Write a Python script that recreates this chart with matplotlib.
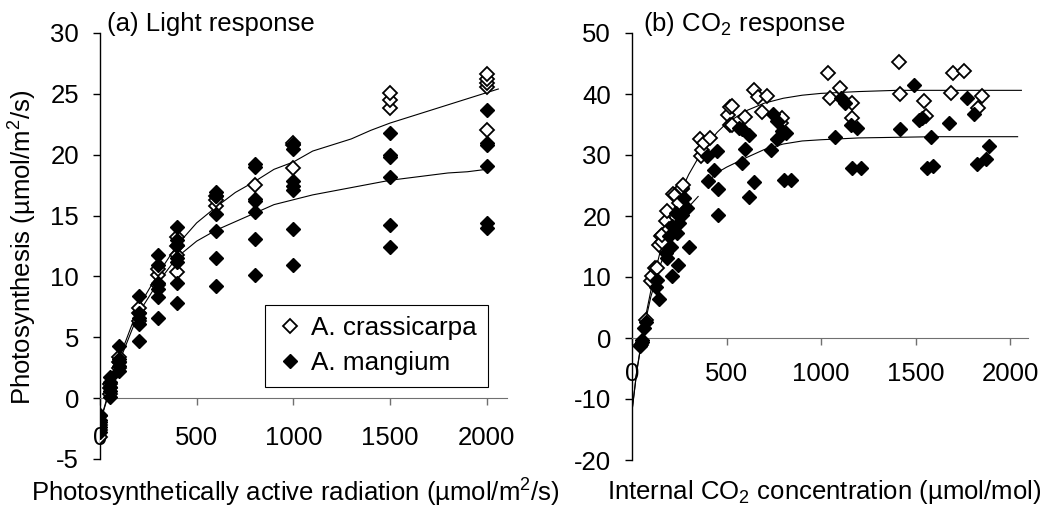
import numpy as np
import matplotlib
matplotlib.use("Agg")
import matplotlib.pyplot as plt

plt.rcParams['font.family'] = ['Liberation Sans', 'DejaVu Sans']
plt.rcParams['mathtext.fontset'] = 'custom'
plt.rcParams['mathtext.rm'] = 'Liberation Sans'
plt.rcParams['axes.unicode_minus'] = False
plt.rcParams['font.size'] = 18

# ---- (a) light response: leaf photosynthesis at each PAR level ----
light_levels = [0, 50, 100, 200, 300, 400, 600, 800, 1000, 1500, 2000]
cras_light = [
    [-1.5, -2.2, -2.6, -3.2],
    [0.3, 0.8, 1.2],
    [2.5, 3.0, 3.4],
    [6.3, 7.0, 7.4],
    [9.3, 10.1, 10.6],
    [10.4, 11.8, 12.5, 13.2],
    [15.8, 16.3, 16.6],
    [17.5],
    [18.9, 20.8, 21.0],
    [23.8, 24.5, 25.1],
    [22.0, 25.6, 25.9, 26.2, 26.6],
]
mang_light = [
    [-1.4, -1.8, -2.0, -2.4, -2.8],
    [0.1, 0.6, 0.9, 1.3, 1.7],
    [2.2, 2.6, 3.0, 3.2, 4.3],
    [4.7, 6.1, 6.6, 7.0, 8.4],
    [6.6, 8.3, 9.0, 9.5, 10.9, 11.8],
    [7.8, 9.5, 11.2, 11.5, 12.6, 13.0, 14.1],
    [9.2, 11.5, 13.7, 15.1, 16.6, 16.9],
    [10.1, 13.1, 15.3, 16.2, 16.4, 19.0, 19.2],
    [10.9, 13.9, 17.1, 17.4, 17.8, 20.5, 20.9],
    [12.4, 14.2, 18.2, 19.8, 20.0, 21.8],
    [14.0, 14.4, 19.1, 20.8, 21.0, 23.7],
]

# fitted light-response curves
cras_light_fit_x = [0, 50, 100, 200, 300, 400, 500, 600, 700, 800, 900, 1000, 1100,
                    1200, 1300, 1400, 1500, 1600, 1700, 1800, 1900, 2000, 2060]
cras_light_fit_y = [-2.0, 0.8, 3.3, 7.5, 10.2, 12.6, 14.4, 15.7, 16.9, 17.8, 18.8, 19.4, 20.3,
                    20.8, 21.3, 22.0, 22.6, 23.1, 23.6, 24.1, 24.6, 25.1, 25.4]
mang_light_fit_x = [0, 50, 100, 200, 300, 400, 500, 600, 700, 800, 900, 1000, 1100,
                    1200, 1300, 1400, 1500, 1600, 1700, 1800, 1900, 2000]
mang_light_fit_y = [-2.0, 0.6, 3.0, 7.0, 9.5, 11.6, 12.9, 13.8, 14.5, 15.2, 15.9, 16.3, 16.7,
                    17.0, 17.3, 17.6, 17.9, 18.1, 18.3, 18.5, 18.6, 18.8]

# ---- (b) CO2 response: photosynthesis vs internal CO2 ----
cras_ci = [46, 72, 99, 108, 122, 134, 143, 152, 157, 160, 178, 187, 196, 219, 226, 249,
           263, 266, 270, 358, 363, 369, 381, 413, 508, 517, 519, 531, 531, 598, 645, 668,
           690, 716, 787, 795, 1035, 1046, 1102, 1163, 1163, 1410, 1417, 1543, 1555, 1690,
           1697, 1755, 1850, 1832]
cras_a = [-1.1, 3.0, 9.3, 10.1, 11.5, 11.5, 15.3, 16.7, 15.8, 16.9, 19.1, 20.8, 17.8, 23.6,
          23.5, 22.2, 24.5, 24.6, 25.1, 32.6, 29.8, 30.9, 31.9, 32.8, 36.6, 37.9, 34.9, 38.0,
          35.0, 36.2, 40.7, 39.5, 37.0, 39.6, 35.2, 36.1, 43.5, 39.4, 41.0, 38.6, 36.1, 45.2,
          40.0, 38.9, 36.4, 40.2, 43.5, 43.8, 39.6, 37.7]
mang_ci = [40, 51, 55, 63, 72, 125, 134, 143, 178, 187, 196, 205, 210, 213, 231, 240, 245,
           249, 266, 275, 293, 302, 398, 404, 434, 451, 455, 455, 566, 584, 584, 598, 619,
           619, 645, 734, 746, 768, 769, 795, 813, 804, 840, 1074, 1107, 1127, 1157, 1192,
           1166, 1210, 1418, 1490, 1519, 1533, 1584, 1562, 1594, 1677, 1774, 1810, 1827,
           1871, 1889]
mang_a = [-1.3, -0.6, -0.3, 1.7, 2.6, 8.4, 9.5, 6.4, 13.9, 13.1, 16.7, 15.0, 10.1, 18.3,
          20.5, 17.2, 12.0, 18.9, 20.2, 23.0, 21.3, 15.0, 29.8, 25.7, 27.5, 30.6, 24.5, 20.2,
          34.5, 34.2, 28.7, 31.0, 33.2, 23.1, 25.5, 30.9, 36.7, 35.6, 32.7, 33.9, 33.6, 25.9,
          25.9, 33.0, 39.3, 38.6, 35.0, 34.5, 27.9, 27.9, 34.2, 41.5, 35.7, 36.0, 33.0, 27.9,
          28.2, 35.3, 39.3, 36.8, 28.6, 29.3, 31.5]

# fitted CO2-response curves
cras_ci_fit_x = [0, 25, 50, 75, 100, 150, 200, 250, 300, 350, 400, 450, 500, 600, 700,
                 800, 900, 1000, 1200, 1400, 1600, 1800, 2060]
cras_ci_fit_y = [-12.0, -5.5, -0.5, 4.0, 7.8, 14.3, 19.5, 23.5, 26.8, 29.5, 31.8, 33.7,
                 35.2, 37.2, 38.5, 39.3, 39.8, 40.1, 40.4, 40.6, 40.6, 40.6, 40.6]
mang_ci_fit_x = [0, 25, 50, 75, 100, 150, 200, 250, 300, 350, 375, 400, 450, 500, 600,
                 700, 800, 900, 1000, 1200, 1400, 1600, 1800, 2040]
mang_ci_fit_y = [-12.0, -5.5, -0.8, 3.3, 6.8, 12.0, 16.0, 19.2, 21.5, 23.2, np.nan, 25.6,
                 27.1, 28.0, 29.5, 30.9, 31.8, 32.3, 32.5, 32.8, 32.9, 33.0, 33.0, 33.0]


def expand(levels, groups):
    xs, ys = [], []
    for lv, vals in zip(levels, groups):
        xs += [lv] * len(vals)
        ys += vals
    return xs, ys


open_kw = dict(ls='none', marker='D', ms=7.0, mfc='white', mec='black', mew=1.3)
fill_kw = dict(ls='none', marker='D', ms=7.0, mfc='black', mec='black', mew=1.0)


def style_axes(ax, xlim, ylim, yticks, xpad):
    ax.set_xlim(*xlim)
    ax.set_ylim(*ylim)
    ax.set_yticks(yticks)
    ax.set_xticks([0, 500, 1000, 1500, 2000])
    ax.spines['top'].set_visible(False)
    ax.spines['right'].set_visible(False)
    ax.spines['bottom'].set_position(('data', 0))
    ax.spines['bottom'].set_color('#707070')
    ax.spines['left'].set_linewidth(1.0)
    ax.tick_params(axis='x', direction='out', length=5, width=1, color='#707070',
                   pad=xpad, labelsize=18.5)
    ax.tick_params(axis='y', direction='out', length=5, width=1, pad=10, labelsize=18.5)


fig = plt.figure(figsize=(10.46, 5.07), dpi=100)
ax1 = fig.add_axes([100 / 1046, 48 / 507, 407 / 1046, 426 / 507])
ax2 = fig.add_axes([632 / 1046, 47 / 507, 396 / 1046, 427 / 507])

# panel (a)
ax1.plot(cras_light_fit_x, cras_light_fit_y, color='black', lw=0.8, zorder=2)
ax1.plot(mang_light_fit_x, mang_light_fit_y, color='black', lw=0.8, zorder=2)
x, y = expand(light_levels, cras_light)
ax1.plot(x, y, label='A. crassicarpa', zorder=3, **open_kw)
x, y = expand(light_levels, mang_light)
ax1.plot(x, y, label='A. mangium', zorder=4, **fill_kw)
style_axes(ax1, (0, 2105), (-5, 30), range(-5, 31, 5), 15)
leg = ax1.legend(loc='lower left', bbox_to_anchor=(0.405, 0.169), borderaxespad=0,
                 fancybox=False, edgecolor='black', framealpha=1, fontsize=18.8,
                 handlelength=1.0, handletextpad=0.3, borderpad=0.45, labelspacing=0.42)
leg.get_frame().set_linewidth(0.8)
ax1.text(0.017, 1.02, '(a) Light response', transform=ax1.transAxes,
         ha='left', va='center', fontsize=18.5)

# panel (b)
ax2.plot(cras_ci_fit_x, cras_ci_fit_y, color='black', lw=0.8, zorder=2)
ax2.plot(mang_ci_fit_x, mang_ci_fit_y, color='black', lw=0.8, zorder=2)
ax2.plot(cras_ci, cras_a, zorder=3, **open_kw)
ax2.plot(mang_ci, mang_a, zorder=4, **fill_kw)
style_axes(ax2, (0, 2095), (-20, 50), range(-20, 51, 10), 12)
ax2.text(0.028, 1.02, '(b) CO$_\\mathregular{2}$ response', transform=ax2.transAxes,
         ha='left', va='center', fontsize=18.5)

fig.text(22 / 1046, 1 - 247 / 507, 'Photosynthesis (µmol/m$^\\mathregular{2}$/s)',
         rotation=90, ha='center', va='center', fontsize=18.5)
fig.text(295 / 1046, 1 - 492 / 507,
         'Photosynthetically active radiation (µmol/m$^\\mathregular{2}$/s)',
         ha='center', va='center', fontsize=18.5)
fig.text(824 / 1046, 1 - 492 / 507, 'Internal CO$_\\mathregular{2}$ concentration (µmol/mol)',
         ha='center', va='center', fontsize=18.5)

fig.savefig('out.png', dpi=100)
